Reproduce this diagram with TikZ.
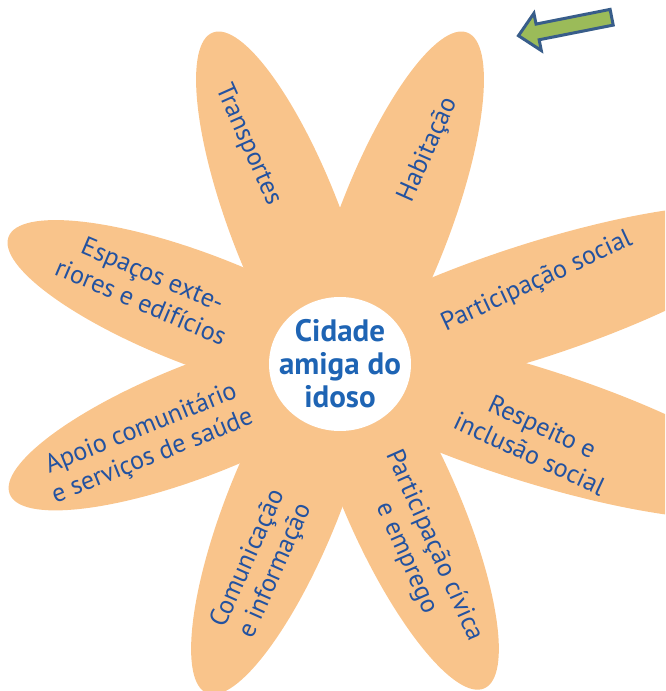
\documentclass[tikz,border=0pt]{standalone}
\usepackage{fontspec}
\setmainfont{PT Sans}
\usetikzlibrary{calc}

\definecolor{petala}{RGB}{249,196,139}
\definecolor{azultexto}{RGB}{35,82,160}
\definecolor{azulcentro}{RGB}{30,100,180}
\definecolor{setaverde}{RGB}{155,187,89}
\definecolor{setaborda}{RGB}{56,93,138}

\tikzset{
  petal/.style={fill=petala},
  rotulo/.style={text=azultexto, align=center, inner sep=0pt,
    font=\fontsize{26}{30}\selectfont},
  miolo/.style={text=azulcentro, align=center, inner sep=0pt,
    font=\fontsize{31}{33}\selectfont\bfseries}
}

\begin{document}
\begin{tikzpicture}[x=1pt,y=1pt]
  \useasboundingbox (0,0) rectangle (665,691);
  \clip (0,0) rectangle (665,691);

  \coordinate (O) at (340,327);

  \foreach \ang/\dist/\len/\larg in {111/150/205/56, 69/150/205/56, 18/200/260/57,
      -17.5/200/260/57, -66/150/205/56, -112/150/205/56, 201.5/150/205/56, 159/150/205/56}
    \fill [petal, rotate around={\ang:(O)}] ($(O)+(\dist,0)$)
      ellipse [x radius=\len, y radius=\larg];

  \fill [white] (O) ellipse [x radius=71, y radius=67];
  \node [miolo] (cidade) at (O) {Cidade\\amiga do\\idoso};

  \node [rotulo, rotate=-66]   (transportes) at (248,546) {Transportes};
  \node [rotulo, rotate=66]    (habitacao)   at (428,541) {Habitação};
  \node [rotulo, rotate=25]    (social)      at (537,409) {Participação social};
  \node [rotulo, rotate=-25]   (respeito)    at (536,251) {Respeito e\\inclusão social};
  \node [rotulo, rotate=-66]   (civica)      at (420,139) {Participação cívica\\e emprego};
  \node [rotulo, rotate=66]    (comunicacao) at (262,126) {Comunicação\\e informação};
  \node [rotulo, rotate=22]    (apoio)       at (147,248) {Apoio comunitário\\e serviços de saúde};
  \node [rotulo, rotate=-23]   (espacos)     at (147,403) {Espaços exte-\\riores e edifícios};

  % seta
  \begin{scope}[shift={(517,655)}, rotate=11.2]
    \draw [setaborda, fill=setaverde, line width=3pt, line join=miter]
      (1.5,0) -- (21,19) -- (21,8) -- (96.5,8) -- (96.5,-8) -- (21,-8) -- (21,-19) -- cycle;
  \end{scope}
\end{tikzpicture}
\end{document}
